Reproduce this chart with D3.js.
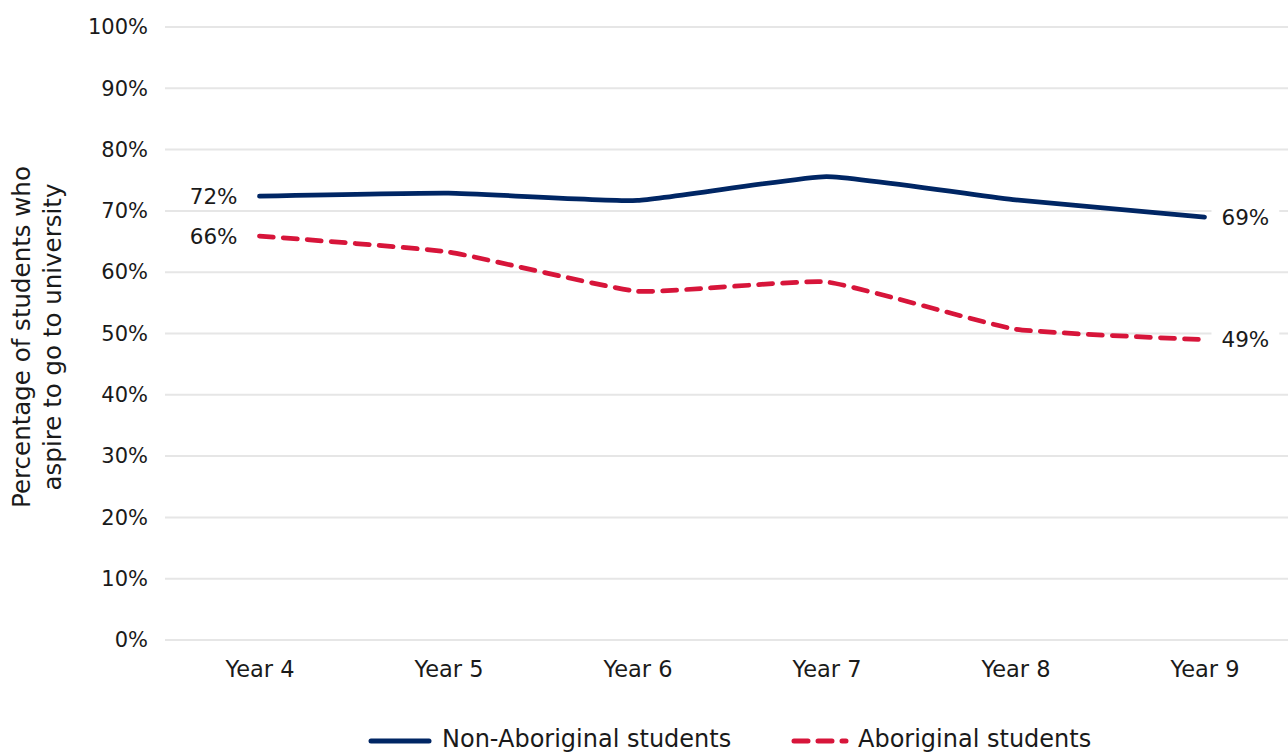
<!DOCTYPE html>
<html>
<head>
<meta charset="utf-8">
<script src="https://cdn.jsdelivr.net/npm/d3@7"></script>
<style>
  html, body { margin: 0; padding: 0; background: #fff; }
  svg { display: block; font-family: "DejaVu Sans", "Noto Sans", sans-serif; }
</style>
</head>
<body>
<svg id="chart" width="1288" height="754"></svg>
<script>
// School years on the x axis
const years = ["Year 4", "Year 5", "Year 6", "Year 7", "Year 8", "Year 9"];
// Share of students who aspire to go to university
const nonAboriginal = [0.724, 0.729, 0.717, 0.756, 0.718, 0.690];
const aboriginal = [0.659, 0.633, 0.569, 0.584, 0.507, 0.490];
const yTicks = [0, 0.1, 0.2, 0.3, 0.4, 0.5, 0.6, 0.7, 0.8, 0.9, 1.0];
const seriesNames = ["Non-Aboriginal students", "Aboriginal students"];

const NAVY = "#002664";
const RED = "#d7153a";
const INK = "#1a1a1a";

const svg = d3.select("#chart");
const W = 1288;

const x = d3.scalePoint().domain(years).range([165, 1299]).padding(0.5);
const y = d3.scaleLinear().domain([0, 1]).range([640, 27]);
const pct = d3.format(".0%");

// Gridlines
svg.append("g")
  .selectAll("line")
  .data(yTicks)
  .join("line")
  .attr("x1", 165).attr("x2", W)
  .attr("y1", d => y(d)).attr("y2", d => y(d))
  .attr("stroke", "#e6e6e6").attr("stroke-width", 2);

// Y axis tick labels
const yAxis = svg.append("g")
  .attr("transform", "translate(148,0)")
  .call(d3.axisLeft(y).tickValues(yTicks).tickFormat(pct).tickSize(0).tickPadding(0));
yAxis.select(".domain").remove();
yAxis.selectAll("text")
  .attr("font-size", 21).attr("fill", INK)
  .attr("font-family", "\"DejaVu Sans\", sans-serif");

// X axis tick labels
const xAxis = svg.append("g")
  .attr("transform", "translate(0,677)")
  .call(d3.axisBottom(x).tickSize(0).tickPadding(0));
xAxis.select(".domain").remove();
xAxis.selectAll("text")
  .attr("font-size", 22.5).attr("fill", INK)
  .attr("dy", 0)
  .attr("font-family", "\"DejaVu Sans\", sans-serif");

// Y axis title (two lines, rotated)
const title = svg.append("text")
  .attr("transform", "translate(37,337) rotate(-90)")
  .attr("text-anchor", "middle")
  .attr("font-size", 24.5).attr("fill", INK);
title.append("tspan").attr("x", 0).attr("y", -7).text("Percentage of students who");
title.append("tspan").attr("x", 0).attr("y", 24).text("aspire to go to university");

// Lines
const line = d3.line()
  .x((d, i) => x(years[i]))
  .y(d => y(d))
  .curve(d3.curveCardinal.tension(0.6));

svg.append("path")
  .datum(nonAboriginal)
  .attr("d", line)
  .attr("fill", "none")
  .attr("stroke", NAVY).attr("stroke-width", 4.75)
  .attr("stroke-linecap", "round").attr("stroke-linejoin", "round");

svg.append("path")
  .datum(aboriginal)
  .attr("d", line)
  .attr("fill", "none")
  .attr("stroke", RED).attr("stroke-width", 4.75)
  .attr("stroke-dasharray", "14,10")
  .attr("stroke-linecap", "round").attr("stroke-linejoin", "round");

// End-point value labels with white backing
const endLabels = [
  { v: nonAboriginal[0], yr: years[0], side: "left" },
  { v: aboriginal[0], yr: years[0], side: "left" },
  { v: nonAboriginal[5], yr: years[5], side: "right" },
  { v: aboriginal[5], yr: years[5], side: "right" }
];
endLabels.forEach(l => {
  const g = svg.append("g");
  const tx = l.side === "left" ? x(l.yr) - 22 : x(l.yr) + 17;
  const t = g.append("text")
    .attr("x", tx).attr("y", y(l.v))
    .attr("dy", "0.36em")
    .attr("text-anchor", l.side === "left" ? "end" : "start")
    .attr("font-size", 21.5).attr("fill", INK)
    .text(pct(l.v));
  const bb = t.node().getBBox();
  g.insert("rect", "text")
    .attr("x", bb.x - 10).attr("y", bb.y)
    .attr("width", bb.width + 20).attr("height", bb.height)
    .attr("fill", "#fff");
});

// Legend
const legend = svg.append("g").attr("transform", "translate(0,739)");
const legendItems = [
  { name: seriesNames[0], color: NAVY, dash: null, x0: 371, x1: 429, tx: 442 },
  { name: seriesNames[1], color: RED, dash: "14,10", x0: 794, x1: 846, tx: 858 }
];
legendItems.forEach(it => {
  legend.append("line")
    .attr("x1", it.x0).attr("x2", it.x1).attr("y1", 2).attr("y2", 2)
    .attr("stroke", it.color).attr("stroke-width", 5)
    .attr("stroke-linecap", "round")
    .attr("stroke-dasharray", it.dash);
  legend.append("text")
    .attr("x", it.tx).attr("y", 0).attr("dy", "0.33em")
    .attr("font-size", 24).attr("fill", INK)
    .text(it.name);
});
</script>
</body>
</html>
